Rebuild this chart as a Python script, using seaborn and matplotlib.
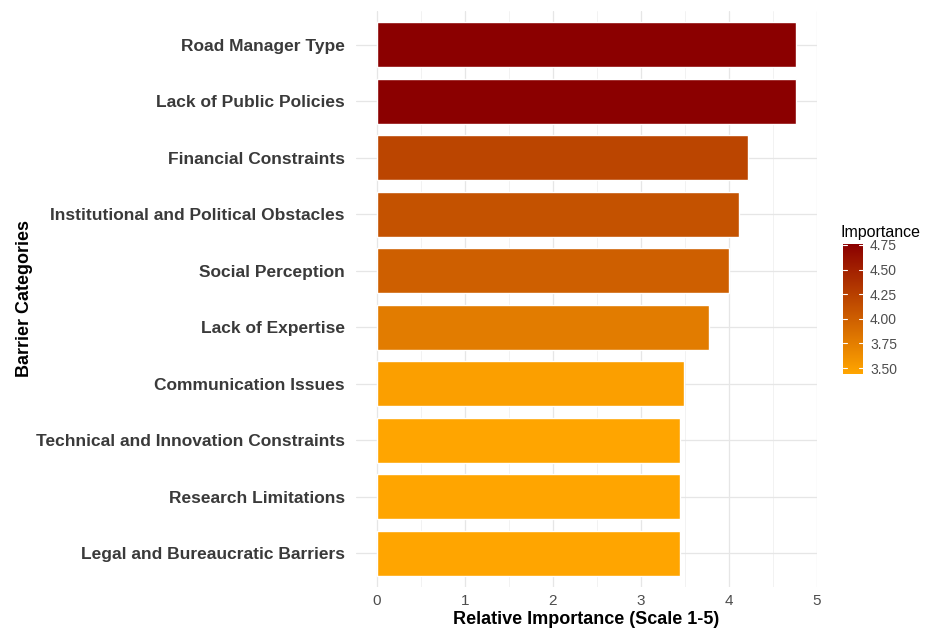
import matplotlib
matplotlib.use("Agg")
import matplotlib.pyplot as plt
import matplotlib.colors as mcolors
import matplotlib.cm as cm
import seaborn as sns
import pandas as pd
import numpy as np

categories = ["Road Manager Type", "Lack of Public Policies", "Financial Constraints",
              "Institutional and Political Obstacles", "Social Perception", "Lack of Expertise",
              "Communication Issues", "Technical and Innovation Constraints",
              "Research Limitations", "Legal and Bureaucratic Barriers"]
importance = [4.76, 4.76, 4.21, 4.11, 4.00, 3.77, 3.49, 3.44, 3.44, 3.44]
x_ticks = [0, 1, 2, 3, 4, 5]
cbar_ticks = [3.50, 3.75, 4.00, 4.25, 4.50, 4.75]

sns.set_theme(style="whitegrid")
plt.rcParams['font.family'] = ['Liberation Sans', 'DejaVu Sans']

df = pd.DataFrame({"Category": categories, "Importance": importance})

cmap = mcolors.LinearSegmentedColormap.from_list("oranges", ["#FFA500", "#8B0000"])
norm = mcolors.Normalize(vmin=min(importance), vmax=max(importance))
palette = [cmap(norm(v)) for v in importance]

fig = plt.figure(figsize=(9.31, 6.29), dpi=100)
ax = fig.add_axes([0.3824, 0.0668, 0.4952, 0.9157])

sns.barplot(data=df, x="Importance", y="Category", hue="Category", palette=palette,
            legend=False, width=0.8, ax=ax, orient="h", saturation=1)

ax.set_xlim(-0.238, 5.0)
ax.set_ylim(len(categories) - 0.4, -0.6)
ax.set_xticks(x_ticks)
ax.set_xticks(np.arange(0.5, 5.0, 1.0), minor=True)
ax.grid(True, which="major", color="#e6e6e6", linewidth=0.9)
ax.grid(True, which="minor", axis="x", color="#f0f0f0", linewidth=0.6)
ax.set_axisbelow(True)
for s in ax.spines.values():
    s.set_visible(False)
ax.set_facecolor("white")
ax.tick_params(axis="both", length=0, pad=4)
ax.tick_params(axis="x", labelsize=11, labelcolor="#4d4d4d", pad=5)
ax.tick_params(axis="y", labelsize=12.5, labelcolor="#3a3a3a", pad=8)
for lab in ax.get_yticklabels():
    lab.set_fontweight("bold")
ax.set_xlabel("Relative Importance (Scale 1-5)", fontsize=13, fontweight="bold", color="black", labelpad=2)
ax.set_ylabel("Barrier Categories", fontsize=13, fontweight="bold", color="black")
ax.yaxis.set_label_coords(-0.70, 0.5)

cax = fig.add_axes([843 / 931, 1 - 374 / 629, 20 / 931, 130 / 629])
sm = cm.ScalarMappable(norm=norm, cmap=cmap)
cb = fig.colorbar(sm, cax=cax, ticks=cbar_ticks)
cb.outline.set_visible(False)
cb.ax.set_yticklabels([f"{t:.2f}" for t in cbar_ticks])
cb.ax.tick_params(labelsize=10, labelcolor="#4d4d4d", length=0, pad=5)
for t in cbar_ticks:
    cb.ax.plot([0, 0.2], [t, t], color="white", lw=0.8, transform=cb.ax.get_yaxis_transform())
    cb.ax.plot([0.8, 1.0], [t, t], color="white", lw=0.8, transform=cb.ax.get_yaxis_transform())
fig.text(840 / 931, 1 - 232 / 629, "Importance", fontsize=11.5, color="black", va="center", ha="left")

fig.savefig("out.png", dpi=100, facecolor="white")
